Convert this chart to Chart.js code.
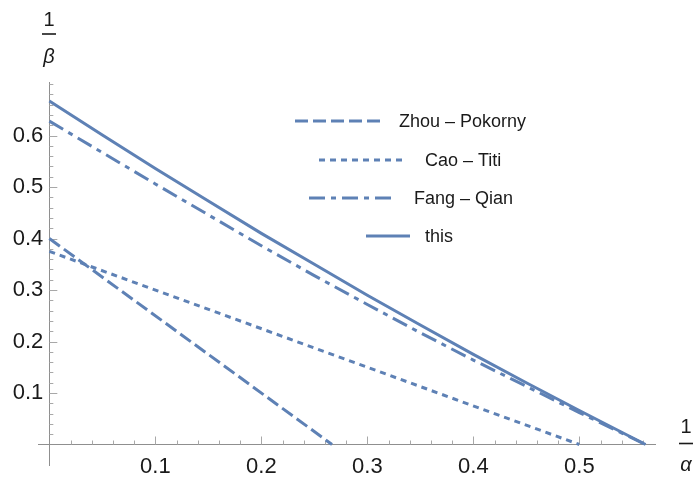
<!DOCTYPE html>
<html>
<head>
<meta charset="utf-8">
<script src="https://cdn.jsdelivr.net/npm/chart.js@4.4.1/dist/chart.umd.min.js"></script>
<style>
  html, body { margin: 0; padding: 0; background: #fff; }
  #wrap { width: 698px; height: 480px; position: relative; }
</style>
</head>
<body>
<div id="wrap"><canvas id="chart" aria-label="1/beta against 1/alpha for four bounds"></canvas></div>
<script>
'use strict';

// values (x = 1/alpha, y = 1/beta)
const zhouX = [0, 0.2667];
const zhouY = [0.4, 0];
const caoX = [0, 0.5];
const caoY = [0.375, 0];
const curveX = [0, 0.05, 0.1, 0.15, 0.2, 0.25, 0.3, 0.35, 0.4, 0.45, 0.5, 0.5625];
const fangY = [0.628, 0.567, 0.506, 0.446, 0.386, 0.328, 0.272, 0.217, 0.164, 0.113, 0.062, 0];
const thisY = [0.667, 0.601, 0.536, 0.473, 0.410, 0.350, 0.290, 0.232, 0.175, 0.120, 0.066, 0];

const seriesNames = ['Zhou \u2013 Pokorny', 'Cao \u2013 Titi', 'Fang \u2013 Qian', 'this'];

const xTickValues = [0.1, 0.2, 0.3, 0.4, 0.5];
const xTickLabels = ['0.1', '0.2', '0.3', '0.4', '0.5'];
const yTickValues = [0.1, 0.2, 0.3, 0.4, 0.5, 0.6];
const yTickLabels = ['0.1', '0.2', '0.3', '0.4', '0.5', '0.6'];

const BLUE = '#5e81b5';
const AXIS = '#8f8f8f';
const TICK = '#a8a8a8';
const TEXT = '#1a1a1a';
const FONT = "'Liberation Sans', Arial, sans-serif";

const pts = (xs, ys) => xs.map((x, i) => ({ x, y: ys[i] }));

function minorTicks(step, upto) {
  const out = [];
  for (let v = step; v <= upto + 1e-9; v += step) out.push({ value: Math.round(v * 1000) / 1000 });
  return out;
}
const isMajor = (vals, v) => vals.some(t => Math.abs(t - v) < 1e-6);
const labelFor = (vals, labels, v) => {
  const i = vals.findIndex(t => Math.abs(t - v) < 1e-6);
  return i >= 0 ? labels[i] : '';
};

const lineStyle = (dash) => ({
  showLine: true, borderColor: BLUE, backgroundColor: BLUE, borderWidth: 3,
  borderDash: dash, borderCapStyle: 'butt', pointRadius: 0, pointHoverRadius: 0, fill: false, tension: 0
});

// ticks pointing into the plot, plus the stacked 1/alpha, 1/beta axis labels
const axisDecor = {
  id: 'axisDecor',
  beforeDatasetsDraw(chart) {
    const { ctx, scales: { x, y } } = chart;
    const x0 = x.getPixelForValue(0);
    const y0 = y.getPixelForValue(0);
    ctx.save();
    ctx.strokeStyle = TICK;
    ctx.lineWidth = 1;
    x.ticks.forEach(t => {
      const px = Math.round(x.getPixelForValue(t.value)) + 0.5;
      const len = isMajor(xTickValues, t.value) ? 8 : 4;
      ctx.beginPath(); ctx.moveTo(px, y0); ctx.lineTo(px, y0 - len); ctx.stroke();
    });
    y.ticks.forEach(t => {
      const py = Math.round(y.getPixelForValue(t.value)) + 0.5;
      const len = isMajor(yTickValues, t.value) ? 8 : 4;
      ctx.beginPath(); ctx.moveTo(x0, py); ctx.lineTo(x0 + len, py); ctx.stroke();
    });

    // fractions 1/beta (top) and 1/alpha (right)
    ctx.fillStyle = TEXT;
    ctx.strokeStyle = TEXT;
    ctx.textAlign = 'center';
    ctx.textBaseline = 'alphabetic';
    ctx.lineWidth = 1.6;
    const frac = (cx, numBase, barY, denBase, sym) => {
      ctx.font = '20px ' + FONT;
      ctx.fillText('1', cx, numBase);
      ctx.beginPath(); ctx.moveTo(cx - 7, barY); ctx.lineTo(cx + 7, barY); ctx.stroke();
      ctx.font = 'italic 20px ' + FONT;
      ctx.fillText(sym, cx, denBase);
    };
    frac(Math.round(x0), 26, 34, 63, '\u03b2');
    frac(686, 433, 443.5, 471, '\u03b1');
    ctx.restore();
  }
};

// legend inside the plot, rows centred like the original
const insideLegend = {
  id: 'insideLegend',
  afterDatasetsDraw(chart) {
    const { ctx } = chart;
    const rows = [
      { y: 121, x1: 295, x2: 380, tx: 399 },
      { y: 160, x1: 319, x2: 406, tx: 425 },
      { y: 198, x1: 309, x2: 392, tx: 414 },
      { y: 236, x1: 366, x2: 410, tx: 425 }
    ];
    ctx.save();
    chart.data.datasets.forEach((ds, i) => {
      const r = rows[i];
      ctx.strokeStyle = ds.borderColor;
      ctx.lineWidth = ds.borderWidth;
      ctx.lineCap = 'butt';
      ctx.setLineDash(ds.borderDash || []);
      ctx.beginPath(); ctx.moveTo(r.x1, r.y); ctx.lineTo(r.x2, r.y); ctx.stroke();
      ctx.setLineDash([]);
      ctx.fillStyle = TEXT;
      ctx.font = '18px ' + FONT;
      ctx.textAlign = 'left';
      ctx.textBaseline = 'middle';
      ctx.fillText(ds.label, r.tx, r.y + 1);
    });
    ctx.restore();
  }
};

new Chart(document.getElementById('chart'), {
  type: 'scatter',
  data: {
    datasets: [
      { label: seriesNames[0], data: pts(zhouX, zhouY), ...lineStyle([13, 5]) },
      { label: seriesNames[1], data: pts(caoX, caoY), ...lineStyle([6, 5]) },
      { label: seriesNames[2], data: pts(curveX, fangY), ...lineStyle([16, 6, 5, 6]) },
      { label: seriesNames[3], data: pts(curveX, thisY), ...lineStyle([]) }
    ]
  },
  options: {
    responsive: true, maintainAspectRatio: false, animation: false,
    layout: { padding: { left: 38, right: 43, top: 82, bottom: 15 } },
    plugins: { legend: { display: false }, tooltip: { enabled: false } },
    scales: {
      x: {
        type: 'linear', min: -0.0107, max: 0.5714, position: { y: 0 },
        afterBuildTicks: s => { s.ticks = minorTicks(0.02, 0.56); },
        grid: { display: true, drawOnChartArea: false, drawTicks: false },
        border: { display: true, color: AXIS, width: 1 },
        ticks: {
          autoSkip: false, maxRotation: 0, padding: 9, color: TEXT,
          font: { family: FONT, size: 22 },
          callback: v => labelFor(xTickValues, xTickLabels, v)
        }
      },
      y: {
        type: 'linear', min: -0.0398, max: 0.704, position: { x: 0 },
        afterBuildTicks: s => { s.ticks = minorTicks(0.02, 0.70); },
        grid: { display: true, drawOnChartArea: false, drawTicks: false },
        border: { display: true, color: AXIS, width: 1 },
        ticks: {
          autoSkip: false, color: TEXT,
          font: { family: FONT, size: 22, lineHeight: 1 },
          // positioned axes ignore padding, so a trailing space keeps the gap
          callback: v => { const l = labelFor(yTickValues, yTickLabels, v); return l ? l + ' ' : ''; }
        }
      }
    }
  },
  plugins: [axisDecor, insideLegend]
});
</script>
</body>
</html>
